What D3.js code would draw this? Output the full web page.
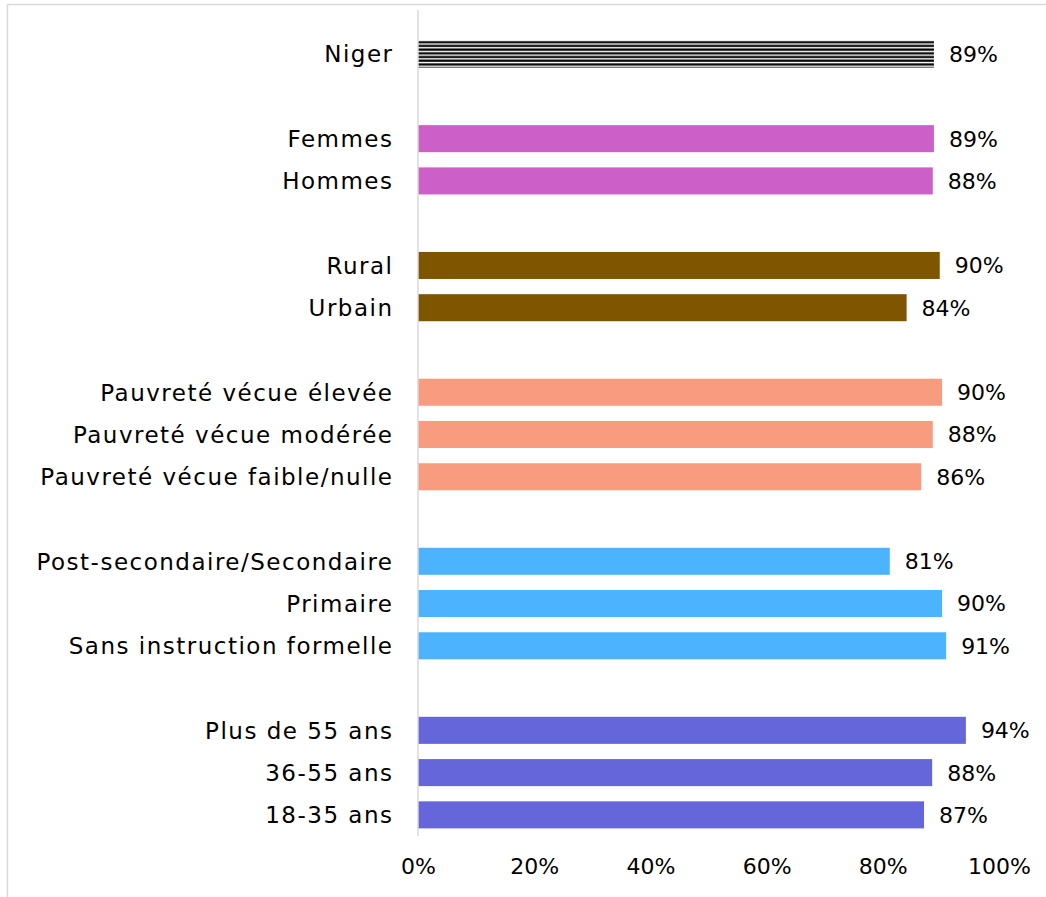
<!DOCTYPE html>
<html>
<head>
<meta charset="utf-8">
<script src="https://cdn.jsdelivr.net/npm/d3@7"></script>
<style>
  html, body { margin: 0; padding: 0; background: #fff; }
  svg { display: block; }
  text { font-family: "DejaVu Sans", "Noto Sans", sans-serif; fill: #000; }
</style>
</head>
<body>
<svg id="chart" width="1046" height="897"></svg>
<script>
// Data
const categories = [
  "Niger", "",
  "Femmes", "Hommes", " ",
  "Rural", "Urbain", "  ",
  "Pauvreté vécue élevée", "Pauvreté vécue modérée", "Pauvreté vécue faible/nulle", "   ",
  "Post-secondaire/Secondaire", "Primaire", "Sans instruction formelle", "    ",
  "Plus de 55 ans", "36-55 ans", "18-35 ans"
];
const values = [
  88.8, null,
  88.8, 88.6, null,
  89.8, 84.1, null,
  90.2, 88.6, 86.6, null,
  81.2, 90.2, 90.9, null,
  94.3, 88.5, 87.1
];
const valueLabels = [
  "89%", "",
  "89%", "88%", "",
  "90%", "84%", "",
  "90%", "88%", "86%", "",
  "81%", "90%", "91%", "",
  "94%", "88%", "87%"
];
const groups = [
  "niger", null,
  "genre", "genre", null,
  "milieu", "milieu", null,
  "pauvrete", "pauvrete", "pauvrete", null,
  "education", "education", "education", null,
  "age", "age", "age"
];
const xTicks = [0, 20, 40, 60, 80, 100];
const xTickLabels = ["0%", "20%", "40%", "60%", "80%", "100%"];

const groupColors = {
  niger: "url(#stripes)",
  genre: "#cc5fc8",
  milieu: "#7f5500",
  pauvrete: "#f89b7f",
  education: "#4cb3ff",
  age: "#6666db"
};

const svg = d3.select("#chart");
const defs = svg.append("defs");
const pat = defs.append("pattern")
  .attr("id", "stripes")
  .attr("patternUnits", "userSpaceOnUse")
  .attr("width", 8).attr("height", 3.7);
pat.append("rect").attr("width", 8).attr("height", 3.7).attr("fill", "#fff");
pat.append("rect").attr("y", 0.4).attr("width", 8).attr("height", 2.2).attr("fill", "#000");

// outer frame
svg.append("path")
  .attr("d", "M7.5,897 L7.5,4.5 L1046,4.5")
  .attr("fill", "none").attr("stroke", "#d9d9d9").attr("stroke-width", 1.5);

const x = d3.scaleLinear().domain([0, 100]).range([418, 999]);
const y = d3.scaleBand().domain(categories).range([33, 836]).paddingInner(0.36).paddingOuter(0.18);

const rows = categories.map((c, i) => ({ c, v: values[i], g: groups[i], l: valueLabels[i] }));

// bars
svg.append("g").selectAll("rect")
  .data(rows.filter(d => d.v !== null))
  .join("rect")
  .attr("x", x(0))
  .attr("y", d => y(d.c))
  .attr("width", d => x(d.v) - x(0))
  .attr("height", y.bandwidth())
  .attr("fill", d => groupColors[d.g]);

// value labels
svg.append("g").selectAll("text")
  .data(rows.filter(d => d.v !== null))
  .join("text")
  .attr("x", d => x(d.v) + 15)
  .attr("y", d => y(d.c) + y.bandwidth() / 2)
  .attr("dy", "0.36em")
  .attr("font-size", 22)
  .text(d => d.l);

// y axis line
svg.append("line")
  .attr("x1", x(0)).attr("x2", x(0))
  .attr("y1", 10).attr("y2", 836)
  .attr("stroke", "#d9d9d9").attr("stroke-width", 1.5);

// y labels
svg.append("g").selectAll("text")
  .data(rows.filter(d => d.v !== null))
  .join("text")
  .attr("x", x(0) - 24.5)
  .attr("y", d => y(d.c) + y.bandwidth() / 2)
  .attr("dy", "0.36em")
  .attr("text-anchor", "end")
  .attr("font-size", 23)
  .attr("letter-spacing", 1.5)
  .text(d => d.c);

// x axis
const xAxis = d3.axisBottom(x)
  .tickValues(xTicks)
  .tickFormat((d, i) => xTickLabels[i])
  .tickSize(0)
  .tickPadding(22);
const gx = svg.append("g").attr("transform", "translate(0,836)").call(xAxis);
gx.select(".domain").remove();
gx.selectAll("text")
  .attr("font-size", 22)
  .style("font-family", "\"DejaVu Sans\", \"Noto Sans\", sans-serif")
  .attr("fill", "#000");
</script>
</body>
</html>
